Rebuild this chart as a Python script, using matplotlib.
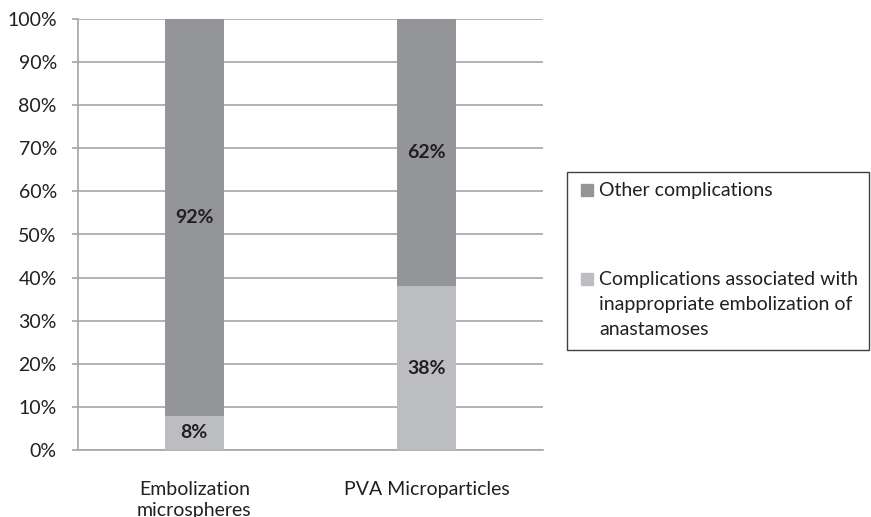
import matplotlib
matplotlib.use("Agg")
import matplotlib.pyplot as plt
from matplotlib.patches import Rectangle

plt.rcParams['font.family'] = ['Lato', 'DejaVu Sans']

categories = ["Embolization\nmicrospheres", "PVA Microparticles"]
anastomoses = [8, 38]
other = [92, 62]
series_names = ["Complications associated with\ninappropriate embolization of\nanastamoses", "Other complications"]
yticks = [0, 10, 20, 30, 40, 50, 60, 70, 80, 90, 100]

c_light = "#bcbdc0"
c_dark = "#939598"
c_grid = "#a6a6a6"
c_text = "#231f20"

W, H = 871, 517
fig = plt.figure(figsize=(W/100, H/100), dpi=100)
ax = fig.add_axes([78/W, 1-450/H, 465/W, 431/H])

x = list(range(len(categories)))
w = 0.254
ax.bar(x, anastomoses, width=w, color=c_light, zorder=3)
ax.bar(x, other, width=w, bottom=anastomoses, color=c_dark, zorder=3)

for xi, a, o in zip(x, anastomoses, other):
    ax.text(xi, a/2, f"{a}%", ha='center', va='center', fontsize=14, fontweight='bold', color=c_text, zorder=4)
    ax.text(xi, a + o/2, f"{o}%", ha='center', va='center', fontsize=14, fontweight='bold', color=c_text, zorder=4)

ax.set_xlim(-0.5, 1.5)
ax.set_ylim(0, 100)
ax.set_yticks(yticks)
ax.set_yticklabels([f"{t}%" for t in yticks], fontsize=14, color=c_text)
ax.set_xticks(x)
ax.set_xticklabels(categories, fontsize=14, color=c_text, linespacing=1.3)
ax.yaxis.grid(True, color=c_grid, linewidth=1.2, zorder=0)
ax.set_axisbelow(True)
for s in ['top', 'right']:
    ax.spines[s].set_visible(False)
for s in ['left', 'bottom']:
    ax.spines[s].set_color(c_grid)
    ax.spines[s].set_linewidth(1.2)
ax.tick_params(axis='y', length=4.3, color=c_grid, width=1.2, pad=11)
ax.tick_params(axis='x', length=0, pad=22)

# Legend (drawn in figure pixel coordinates)
def fx(px):
    return px / W
def fy(py):
    return 1 - py / H

fig.patches.append(Rectangle((fx(567), fy(350)), fx(869) - fx(567), fy(172) - fy(350),
                             transform=fig.transFigure, fill=False, edgecolor='#404040', linewidth=1.0))
legend_items = [(series_names[1], c_dark, 189.5), (series_names[0], c_light, 278.5)]
for label, col, yc in legend_items:
    fig.patches.append(Rectangle((fx(581), fy(yc + 6)), fx(593) - fx(581), fy(yc - 6) - fy(yc + 6),
                                 transform=fig.transFigure, color=col))
    for i, line in enumerate(label.split("\n")):
        fig.text(fx(599), fy(yc + 6.5 + 25 * i), line, ha='left', va='baseline', fontsize=14, color=c_text)

fig.savefig("out.png", dpi=100)
